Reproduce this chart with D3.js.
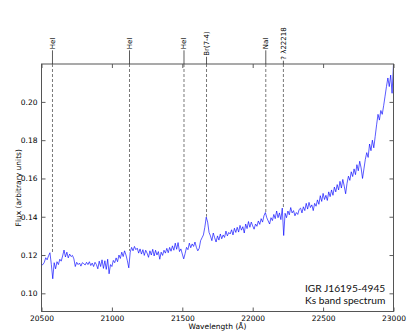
<!DOCTYPE html>
<html><head><meta charset="utf-8">
<script src="https://cdn.jsdelivr.net/npm/d3@7"></script>
<style>body{margin:0;background:#fff}svg{display:block}</style>
</head><body>
<svg id="c" width="415" height="333"></svg>
<script>
const wavelength = [
20500,20510,20520,20530,20540,20550,20560,20570,20580,20590,
20600,20610,20620,20630,20640,20650,20660,20670,20680,20690,
20700,20710,20720,20730,20740,20750,20760,20770,20780,20790,
20800,20810,20820,20830,20840,20850,20860,20870,20880,20890,
20900,20910,20920,20930,20940,20950,20960,20970,20980,20990,
21000,21010,21020,21030,21040,21050,21060,21070,21080,21090,
21100,21110,21120,21130,21140,21150,21160,21170,21180,21190,
21200,21210,21220,21230,21240,21250,21260,21270,21280,21290,
21300,21310,21320,21330,21340,21350,21360,21370,21380,21390,
21400,21410,21420,21430,21440,21450,21460,21470,21480,21490,
21500,21510,21520,21530,21540,21550,21560,21570,21580,21590,
21600,21610,21620,21630,21640,21650,21660,21670,21680,21690,
21700,21710,21720,21730,21740,21750,21760,21770,21780,21790,
21800,21810,21820,21830,21840,21850,21860,21870,21880,21890,
21900,21910,21920,21930,21940,21950,21960,21970,21980,21990,
22000,22010,22020,22030,22040,22050,22060,22070,22080,22090,
22100,22110,22120,22130,22140,22150,22160,22170,22180,22190,
22200,22210,22220,22230,22240,22250,22260,22270,22280,22290,
22300,22310,22320,22330,22340,22350,22360,22370,22380,22390,
22400,22410,22420,22430,22440,22450,22460,22470,22480,22490,
22500,22510,22520,22530,22540,22550,22560,22570,22580,22590,
22600,22610,22620,22630,22640,22650,22660,22670,22680,22690,
22700,22710,22720,22730,22740,22750,22760,22770,22780,22790,
22800,22810,22820,22830,22840,22850,22860,22870,22880,22890,
22900,22910,22920,22930,22940,22950,22960,22970,22980,22990,
23000];
const flux = [
0.1148,0.1150,0.1162,0.1186,0.1175,0.1196,0.1212,0.1150,0.1076,0.1160,
0.1128,0.1165,0.1150,0.1178,0.1168,0.1195,0.1226,0.1190,0.1215,0.1185,
0.1205,0.1192,0.1198,0.1180,0.1140,0.1162,0.1150,0.1158,0.1142,0.1160,
0.1155,0.1148,0.1162,0.1150,0.1165,0.1145,0.1158,0.1140,0.1162,0.1150,
0.1128,0.1168,0.1140,0.1175,0.1130,0.1170,0.1125,0.1178,0.1102,0.1150,
0.1140,0.1172,0.1160,0.1185,0.1165,0.1200,0.1182,0.1215,0.1192,0.1222,
0.1200,0.1170,0.1133,0.1215,0.1240,0.1222,0.1245,0.1228,0.1236,0.1210,
0.1232,0.1205,0.1228,0.1198,0.1225,0.1210,0.1188,0.1222,0.1200,0.1230,
0.1195,0.1225,0.1200,0.1218,0.1178,0.1215,0.1198,0.1225,0.1210,0.1235,
0.1212,0.1240,0.1220,0.1248,0.1225,0.1262,0.1230,0.1265,0.1218,0.1232,
0.1205,0.1180,0.1208,0.1240,0.1228,0.1262,0.1238,0.1258,0.1245,0.1268,
0.1240,0.1222,0.1235,0.1275,0.1290,0.1305,0.1345,0.1398,0.1372,0.1318,
0.1300,0.1275,0.1315,0.1290,0.1268,0.1300,0.1278,0.1310,0.1285,0.1305,
0.1292,0.1325,0.1300,0.1318,0.1310,0.1332,0.1305,0.1340,0.1318,0.1345,
0.1320,0.1355,0.1330,0.1348,0.1315,0.1362,0.1338,0.1375,0.1345,0.1372,
0.1352,0.1335,0.1362,0.1350,0.1378,0.1360,0.1390,0.1372,0.1405,0.1422,
0.1395,0.1378,0.1362,0.1395,0.1380,0.1412,0.1390,0.1430,0.1395,0.1420,
0.1385,0.1445,0.1302,0.1418,0.1395,0.1430,0.1410,0.1448,0.1420,0.1432,
0.1405,0.1422,0.1412,0.1438,0.1445,0.1420,0.1452,0.1432,0.1470,0.1440,
0.1475,0.1448,0.1462,0.1432,0.1470,0.1455,0.1488,0.1465,0.1510,0.1480,
0.1522,0.1490,0.1512,0.1485,0.1530,0.1505,0.1540,0.1512,0.1555,0.1530,
0.1568,0.1540,0.1585,0.1550,0.1595,0.1560,0.1520,0.1575,0.1612,0.1590,
0.1635,0.1610,0.1650,0.1620,0.1672,0.1640,0.1690,0.1655,0.1600,0.1650,
0.1700,0.1735,0.1710,0.1780,0.1745,0.1800,0.1760,0.1820,0.1880,0.1935,
0.1905,0.1955,0.1935,0.1980,0.2030,0.2080,0.2125,0.2080,0.2140,0.2045,
0.2200];
const xTicks = [20500,21000,21500,22000,22500,23000];
const yTicks = [0.10,0.12,0.14,0.16,0.18,0.20];
const lineNames = ["HeI","HeI","HeI","Br(7-4)","NaI","? \u03bb22218"];
const lineWavelengths = [20578,21125,21512,21672,22093,22218];
const lineEndFlux = [0.1213,0.1222,0.1266,0.1400,0.1423,0.1449];
const annotation = ["IGR J16195-4945","Ks band spectrum"];
const xLabel = "Wavelength (\u00c5)";
const yLabel = "Flux (arbitrary units)";

const svg = d3.select("#c");
const m = {l:41.5, r:393.5, t:64, b:311.5};
const x = d3.scaleLinear().domain([20500,23000]).range([m.l,m.r]);
const y = d3.scaleLinear().domain([0.0905,0.2198]).range([m.b,m.t]);
const font = "'DejaVu Sans', sans-serif";

svg.append("defs").append("clipPath").attr("id","clip")
  .append("rect").attr("x",m.l).attr("y",m.t).attr("width",m.r-m.l).attr("height",m.b-m.t);

// dashed line markers inside plot
const lg = svg.append("g");
lineWavelengths.forEach((w,i)=>{
  lg.append("line").attr("x1",x(w)).attr("x2",x(w)).attr("y1",m.t).attr("y2",y(lineEndFlux[i]))
    .attr("stroke","#555").attr("stroke-width",0.8).attr("stroke-dasharray","3,2");
});

// spectrum
svg.append("path").datum(wavelength.map((w,i)=>[w,flux[i]]))
  .attr("clip-path","url(#clip)")
  .attr("fill","none").attr("stroke","#0000ff").attr("stroke-width",0.65)
  .attr("d", d3.line().x(d=>x(d[0])).y(d=>y(d[1])));

// axes
const fmtY = d3.format(".2f");
const gx = svg.append("g").attr("transform",`translate(0,${m.b})`)
  .call(d3.axisBottom(x).tickValues(xTicks).tickFormat(d3.format("d")).tickSizeInner(-4).tickSizeOuter(0).tickPadding(4));
const gxt = svg.append("g").attr("transform",`translate(0,${m.t})`)
  .call(d3.axisTop(x).tickValues(xTicks).tickFormat("").tickSizeInner(-4).tickSizeOuter(0));
const gy = svg.append("g").attr("transform",`translate(${m.l},0)`)
  .call(d3.axisLeft(y).tickValues(yTicks).tickFormat(fmtY).tickSizeInner(-4).tickSizeOuter(0).tickPadding(4));
const gyr = svg.append("g").attr("transform",`translate(${m.r},0)`)
  .call(d3.axisRight(y).tickValues(yTicks).tickFormat("").tickSizeInner(-4).tickSizeOuter(0));
[gx,gxt,gy,gyr].forEach(g=>{
  g.select(".domain").remove();
  g.selectAll(".tick line").attr("stroke","#333").attr("stroke-width",0.8);
  g.selectAll("text").attr("font-family",font).attr("font-size",7.5).attr("fill","#000");
});

svg.append("rect").attr("x",m.l).attr("y",m.t).attr("width",m.r-m.l).attr("height",m.b-m.t)
  .attr("fill","none").attr("stroke","#555").attr("stroke-width",1);

// axis labels
svg.append("text").attr("x",(m.l+m.r)/2).attr("y",328.5).attr("text-anchor","middle")
  .attr("font-family",font).attr("font-size",7.5).text(xLabel);
svg.append("text").attr("transform",`translate(20.5,${(m.t+m.b)/2}) rotate(-90)`)
  .attr("text-anchor","middle").attr("font-family",font).attr("font-size",7.5).text(yLabel);

// top labels
lineWavelengths.forEach((w,i)=>{
  const cy = 43.5;
  const t = svg.append("text").attr("transform",`translate(${x(w)+2.5},${cy}) rotate(-90)`)
    .attr("text-anchor","middle").attr("font-family",font).attr("font-size",7).text(lineNames[i]);
  const len = t.node().getComputedTextLength();
  svg.append("line").attr("x1",x(w)).attr("x2",x(w)).attr("y1",cy+len/2+1).attr("y2",m.t)
    .attr("stroke","#333").attr("stroke-width",0.8);
});

// annotation
annotation.forEach((s,i)=>{
  svg.append("text").attr("x",305).attr("y",291.5+i*12.2)
    .attr("font-family","Lato, 'Open Sans', sans-serif").attr("font-size",10.2).attr("fill","#111").text(s);
});
</script>
</body></html>
